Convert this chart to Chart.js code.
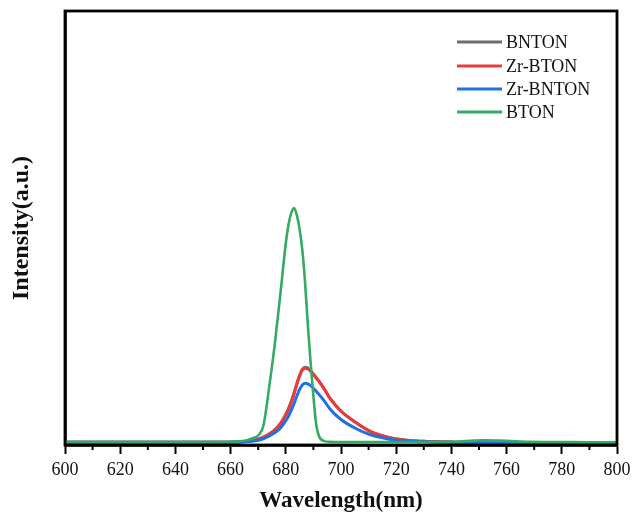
<!DOCTYPE html>
<html>
<head>
<meta charset="utf-8">
<script src="https://cdn.jsdelivr.net/npm/chart.js@4.4.1/dist/chart.umd.min.js"></script>
<style>
  html, body { margin: 0; padding: 0; background: #ffffff; }
  #wrap { width: 636px; height: 515px; position: relative; }
</style>
</head>
<body>
<div id="wrap"><canvas id="c" width="636" height="515"></canvas></div>
<script>
// ---- data ----
const wavelengths = [600, 620, 640, 655, 662, 666, 668, 670, 672, 674, 676, 678, 680, 681, 682, 683, 684, 685, 686, 687, 688, 689, 690, 691, 692, 694, 696, 700, 705, 710, 715, 720, 730, 740, 745, 752, 760, 768, 780, 790, 800];

const seriesLabels = ["BNTON", "Zr-BTON", "Zr-BNTON", "BTON"];

const bnton   = [0.003, 0.003, 0.003, 0.003, 0.004, 0.007, 0.010, 0.016, 0.025, 0.038, 0.056, 0.082, 0.122, 0.148, 0.178, 0.213, 0.253, 0.288, 0.314, 0.322, 0.319, 0.308, 0.294, 0.279, 0.264, 0.229, 0.191, 0.136, 0.090, 0.053, 0.031, 0.017, 0.007, 0.004, 0.003, 0.003, 0.002, 0.002, 0.001, 0.001, 0.000];
const zrBton  = [0.003, 0.003, 0.003, 0.003, 0.004, 0.007, 0.010, 0.016, 0.025, 0.038, 0.055, 0.080, 0.120, 0.145, 0.175, 0.210, 0.250, 0.285, 0.310, 0.318, 0.315, 0.305, 0.292, 0.277, 0.262, 0.228, 0.190, 0.135, 0.090, 0.053, 0.031, 0.017, 0.007, 0.004, 0.003, 0.003, 0.002, 0.002, 0.001, 0.001, 0.000];
const zrBnton = [0.003, 0.003, 0.003, 0.003, 0.004, 0.006, 0.008, 0.012, 0.019, 0.030, 0.044, 0.063, 0.095, 0.115, 0.140, 0.168, 0.200, 0.228, 0.247, 0.254, 0.252, 0.244, 0.233, 0.220, 0.207, 0.178, 0.145, 0.100, 0.064, 0.038, 0.022, 0.012, 0.005, 0.003, 0.002, 0.002, 0.002, 0.001, 0.001, 0.001, 0.000];
const bton    = [0.004, 0.004, 0.004, 0.004, 0.006, 0.012, 0.020, 0.032, 0.080, 0.240, 0.420, 0.630, 0.850, 0.930, 0.980, 1.000, 0.970, 0.910, 0.820, 0.680, 0.500, 0.340, 0.200, 0.080, 0.030, 0.008, 0.005, 0.004, 0.004, 0.004, 0.004, 0.004, 0.004, 0.005, 0.008, 0.011, 0.009, 0.005, 0.004, 0.003, 0.003];

const xMajorTicks = [600, 620, 640, 660, 680, 700, 720, 740, 760, 780, 800];
const xMinorTicks = [610, 630, 650, 670, 690, 710, 730, 750, 770, 790];

const xTitle = "Wavelength(nm)";
const yTitle = "Intensity(a.u.)";

// ---- styles ----
const colors = ["rgb(110,110,110)", "rgb(236,58,58)", "rgb(30,112,228)", "rgb(52,170,98)"];
const widths = [3, 3, 3, 2.6];
const serif = "'Liberation Serif', 'Times New Roman', serif";

const allSeries = [bnton, zrBton, zrBnton, bton];
const datasets = allSeries.map((vals, i) => ({
  label: seriesLabels[i],
  data: wavelengths.map((w, k) => ({ x: w, y: vals[k] })),
  borderColor: colors[i],
  backgroundColor: colors[i],
  borderWidth: widths[i],
  pointRadius: 0,
  fill: false,
  cubicInterpolationMode: 'monotone',
  order: 4 - i
}));

const framePlugin = {
  id: 'frame',
  afterDraw(chart) {
    const { ctx, chartArea: a, scales } = chart;
    ctx.save();
    // minor ticks
    ctx.strokeStyle = '#000';
    ctx.lineWidth = 2;
    xMinorTicks.forEach(v => {
      const px = scales.x.getPixelForValue(v);
      ctx.beginPath();
      ctx.moveTo(px, a.bottom);
      ctx.lineTo(px, a.bottom + 5);
      ctx.stroke();
    });
    // frame
    ctx.lineWidth = 2.8;
    ctx.strokeRect(a.left, a.top, a.right - a.left, a.bottom - a.top);
    // legend
    ctx.font = "18px " + serif;
    ctx.textBaseline = 'middle';
    ctx.textAlign = 'left';
    const ys = [42, 66, 89, 112];
    chart.data.datasets.forEach((ds, i) => {
      const y = ys[i];
      ctx.strokeStyle = ds.borderColor;
      ctx.lineWidth = 3;
      ctx.beginPath();
      ctx.moveTo(457, y);
      ctx.lineTo(502, y);
      ctx.stroke();
      ctx.fillStyle = '#111';
      ctx.fillText(ds.label, 506, y + 1);
    });
    ctx.restore();
  }
};

new Chart(document.getElementById('c'), {
  type: 'line',
  data: { datasets },
  options: {
    responsive: false,
    animation: false,
    layout: { padding: { top: 11, right: 19, bottom: 0, left: 0 } },
    plugins: { legend: { display: false }, tooltip: { enabled: false } },
    scales: {
      x: {
        type: 'linear',
        min: 600, max: 800,
        afterFit(s) { s.height = 70; },
        afterBuildTicks(s) { s.ticks = xMajorTicks.map(v => ({ value: v })); },
        ticks: { color: '#111', font: { family: serif, size: 18 }, padding: 5, maxRotation: 0, autoSkip: false },
        grid: { drawOnChartArea: false, drawTicks: true, tickLength: 9, tickWidth: 2, tickColor: '#000' },
        border: { display: true, color: '#000', width: 2.8 },
        title: { display: true, text: xTitle, color: '#111', font: { family: serif, size: 23, weight: 'bold' }, padding: { top: 0, bottom: 0 } }
      },
      y: {
        type: 'linear',
        min: -0.0085, max: 1.8383,
        afterFit(s) { s.width = 65; },
        ticks: { display: false },
        grid: { display: false },
        border: { display: true, color: '#000', width: 2.8 },
        title: { display: true, text: yTitle, color: '#111', font: { family: serif, size: 24, weight: 'bold' }, padding: { top: 7, bottom: 0 } }
      }
    }
  },
  plugins: [framePlugin]
});
</script>
</body>
</html>
